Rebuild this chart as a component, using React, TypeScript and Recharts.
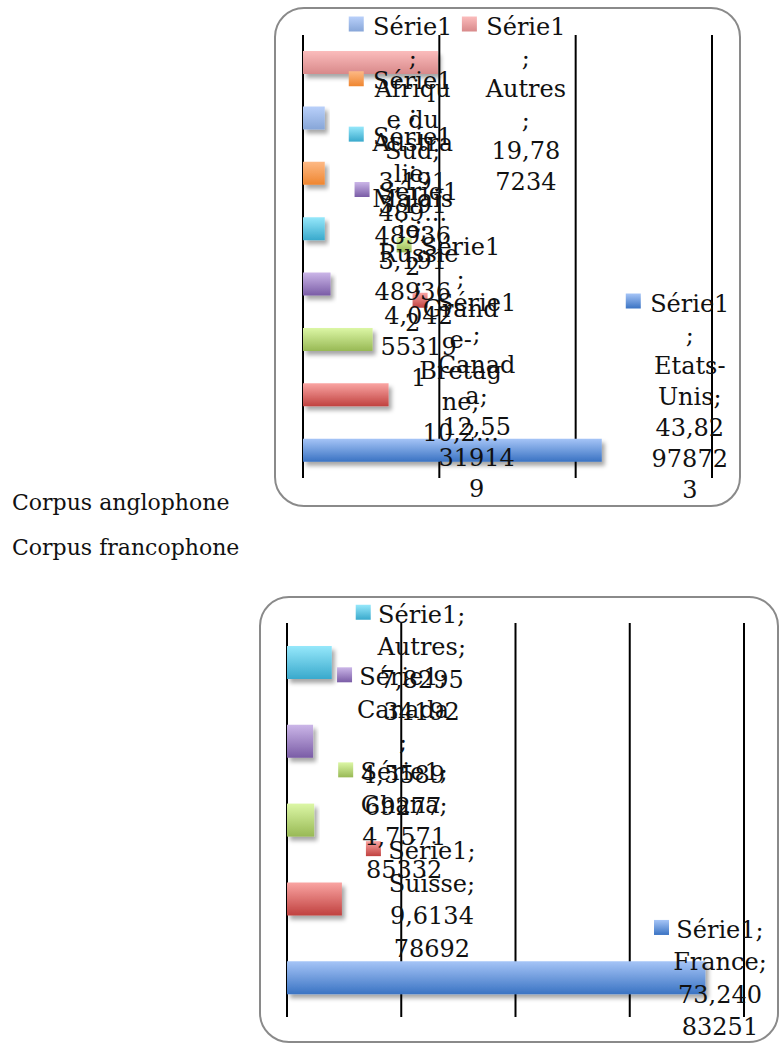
import { BarChart, Bar, XAxis, YAxis, CartesianGrid, Cell, LabelList } from 'recharts'

// Corpus anglophone (ordre Excel : premier en bas)
const angloCategories = ['Etats-Unis', 'Canada', 'Grande-Bretagne', 'Russie', 'Malaisie', 'Australie', 'Afrique du Sud', 'Autres']
const angloValues = [43.82978723, 12.55319149, 10.21276596, 4.042553191, 3.191489362, 3.191489362, 3.191489362, 19.787234]
const angloTicks = [0, 20, 40, 60]
const angloLabelLines = [
  ['Série1', ';', 'Etats-', 'Unis;', '43,82', '97872', '3'],
  ['Série1', ';', 'Canad', 'a;', '12,55', '31914', '9'],
  ['Série1', ';', 'Grand', 'e-', 'Bretag', 'ne;', '10,2...'],
  ['Série1', ';', 'Russie', ';', '4,042', '55319', '1'],
  ['Série1', ';', 'Malais', 'ie;', '3,191', '48936', '2'],
  ['Série1', ';', 'Austra', 'lie;', '3,191', '48936', '2'],
  ['Série1', ';', 'Afriqu', 'e du', 'Sud;', '3,191', '489...'],
  ['Série1', ';', 'Autres', ';', '19,78', '7234'],
]

// Corpus francophone
const francoCategories = ['France', 'Suisse', 'Ghana', 'Canada', 'Autres']
const francoValues = [73.24083251, 9.613478692, 4.757185332, 4.558969277, 7.829534192]
const francoTicks = [0, 20, 40, 60, 80]
const francoLabelLines = [
  ['Série1;', 'France;', '73,240', '83251'],
  ['Série1;', 'Suisse;', '9,6134', '78692'],
  ['Série1;', 'Ghana;', '4,7571', '85332'],
  ['Série1;', 'Canada', ';', '4,5589', '69277'],
  ['Série1;', 'Autres;', '7,8295', '34192'],
]

// dégradés (haut, bas) façon Office 2007
const barColors = [
  ['#a6c5f7', '#3a73c3'],
  ['#faa5a3', '#c0413f'],
  ['#dcf7a6', '#98b955'],
  ['#cbb6e8', '#7a5ca6'],
  ['#96e8fb', '#39a9cc'],
  ['#fdb985', '#ef8630'],
  ['#b9d0fa', '#87a6d8'],
  ['#fbbcbc', '#d8898a'],
]

const FONT = '"DejaVu Serif", serif'

interface ChartProps {
  id: string
  categories: string[]
  values: number[]
  ticks: number[]
  labels: string[][]
  left: number
  top: number
  width: number
  height: number
  margin: { top: number; right: number; bottom: number; left: number }
  barSize: number
  lineHeight: number
  textOffset: number
  labelBoxWidth: number
  labelPad: number
}

function CorpusChart(p: ChartProps) {
  const data = p.categories.map((name, i) => ({ name, value: p.values[i] }))

  const renderLabel = (props: any) => {
    const vb = props.viewBox || props
    const x = Number(vb.x), y = Number(vb.y), w = Number(vb.width), h = Number(vb.height)
    let index = props.index
    if (index === undefined) index = p.values.indexOf(props.value)
    const lines = p.labels[index] || []
    const keyLeft = Math.min(x + w + 24, p.width - 4 - p.labelBoxWidth)
    const blockH = lines.length * p.lineHeight
    let topY = y + h / 2 - blockH / 2
    topY = Math.max(p.labelPad, Math.min(topY, p.height - p.labelPad - blockH))
    const firstC = topY + p.lineHeight / 2
    return (
      <g key={`lbl-${index}`}>
        <rect x={keyLeft} y={firstC - 9} width={15} height={15} fill={`url(#${p.id}-g${index})`} />
        {lines.map((t, i) => (
          <text
            key={i}
            x={keyLeft + p.textOffset}
            y={firstC + i * p.lineHeight + 9}
            textAnchor="middle"
            fontFamily={FONT}
            fontSize={24}
            fill="#111"
          >
            {t}
          </text>
        ))}
      </g>
    )
  }

  return (
    <>
      <div style={{
        position: 'absolute',
        left: p.left,
        top: p.top,
        width: p.width,
        height: p.height,
        boxSizing: 'border-box',
        border: '2px solid #8a8a8a',
        borderRadius: 30,
        background: '#fff'
      }} />
      <div style={{ position: 'absolute', left: p.left, top: p.top }}>
        <BarChart
          width={p.width}
          height={p.height}
          data={data}
          layout="vertical"
          margin={p.margin}
          barSize={p.barSize}
        >
          <defs>
            {barColors.map((c, i) => (
              <linearGradient key={i} id={`${p.id}-g${i}`} x1="0" y1="0" x2="0" y2="1">
                <stop offset="0%" stopColor={c[0]} />
                <stop offset="100%" stopColor={c[1]} />
              </linearGradient>
            ))}
            <filter id={`${p.id}-shadow`} x="-10%" y="-30%" width="130%" height="190%">
              <feDropShadow dx="3" dy="4" stdDeviation="2" floodColor="#000" floodOpacity="0.35" />
            </filter>
          </defs>
          <CartesianGrid horizontal={false} stroke="#000" strokeWidth={2} />
          <XAxis type="number" domain={[p.ticks[0], p.ticks[p.ticks.length - 1]]} ticks={p.ticks} hide />
          <YAxis type="category" dataKey="name" reversed hide />
          <Bar dataKey="value" isAnimationActive={false}>
            {data.map((_, i) => (
              <Cell key={i} fill={`url(#${p.id}-g${i})`} filter={`url(#${p.id}-shadow)`} />
            ))}
            <LabelList dataKey="value" content={renderLabel} />
          </Bar>
        </BarChart>
      </div>
    </>
  )
}

export default function App() {
  return (
    <div style={{
      position: 'absolute',
      left: 0,
      top: 0,
      width: 780,
      height: 1045,
      background: '#fff',
      fontFamily: FONT,
      overflow: 'hidden'
    }}>
      <CorpusChart
        id="anglo"
        categories={angloCategories}
        values={angloValues}
        ticks={angloTicks}
        labels={angloLabelLines}
        left={274}
        top={7}
        width={467}
        height={500}
        margin={{ top: 28, right: 29, bottom: 29, left: 29 }}
        barSize={23}
        lineHeight={31}
        textOffset={64}
        labelBoxWidth={100}
        labelPad={3}
      />
      <div style={{ position: 'absolute', left: 12, top: 490, fontSize: 22, lineHeight: '26px', color: '#111' }}>
        Corpus anglophone
      </div>
      <div style={{ position: 'absolute', left: 12, top: 535, fontSize: 22, lineHeight: '26px', color: '#111' }}>
        Corpus francophone
      </div>
      <CorpusChart
        id="franco"
        categories={francoCategories}
        values={francoValues}
        ticks={francoTicks}
        labels={francoLabelLines}
        left={259}
        top={596}
        width={520}
        height={447}
        margin={{ top: 27, right: 35, bottom: 26, left: 28 }}
        barSize={33}
        lineHeight={32.5}
        textOffset={66}
        labelBoxWidth={121}
        labelPad={-4}
      />
    </div>
  )
}
